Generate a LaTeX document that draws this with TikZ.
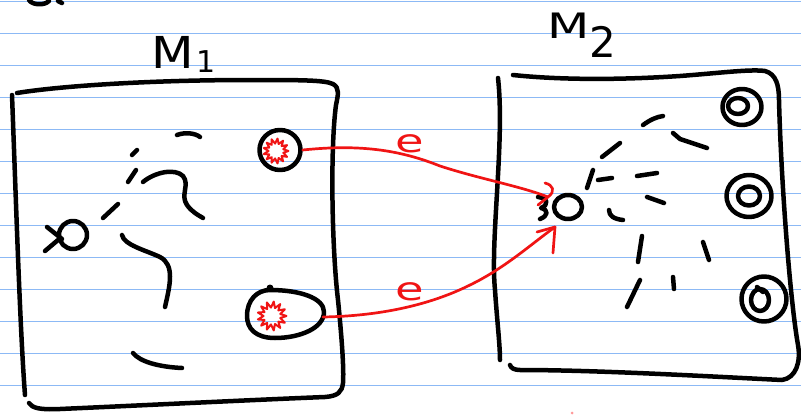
\documentclass[tikz,border=0pt]{standalone}
\usepackage{fontspec}
\setmainfont{DejaVu Sans}
\usetikzlibrary{shapes.geometric,calc}
\definecolor{ruleblue}{RGB}{140,185,245}
\definecolor{inkred}{RGB}{240,20,20}
\begin{document}
\begin{tikzpicture}[x=1pt,y=-1pt,
  ink/.style={line width=4.5pt,line cap=round,line join=round,draw=black},
  redink/.style={line width=2.7pt,line cap=round,line join=round,draw=inkred},
  burst/.style={line width=2pt,line join=round,draw=inkred},
  hrule/.style={line width=1.5pt,draw=ruleblue},
  ring/.style={ink,ellipse,inner sep=0pt},
  mlabel/.style={anchor=base west,inner sep=0pt},
  elabel/.style={anchor=base west,inner sep=0pt,text=inkred,font=\fontsize{32}{32}\selectfont}
]
\useasboundingbox (0,0) rectangle (801,415);
\fill[white] (0,0) rectangle (801,415);
\foreach \k in {0,...,12} {\draw[hrule] (0,{1.3+32*\k}) -- (801,{1.3+32*\k});}

% fragment at top left
\draw[ink] (29,0) .. controls (32,5) and (44,6) .. (49,1);
\draw[ink] (58,1) -- (62,3);

% labels
\node[mlabel] (m1) at (151,68) {\scalebox{1.12}[1]{\fontsize{44}{44}\selectfont M}\hspace{3pt}\raisebox{-4pt}{\fontsize{30}{30}\selectfont 1}};
\node[mlabel] (m2) at (547,38) {\scalebox{1.4}[1]{\fontsize{35}{35}\selectfont M}\raisebox{-19pt}{\fontsize{42}{42}\selectfont 2}};

% left box M1
\draw[ink] (17,93) .. controls (60,86) and (150,80) .. (250,80) .. controls (300,80) and (325,80) .. (333,84) .. controls (340,88) and (338,95) .. (336,105) .. controls (330,150) and (332,250) .. (338,300) .. controls (342,340) and (344,370) .. (343,383) .. controls (342,392) and (338,396) .. (325,397) .. controls (250,400) and (150,405) .. (60,409) .. controls (40,410) and (32,408) .. (29,403);
\draw[ink] (12,95) .. controls (16,200) and (20,330) .. (25,395);

% left contents
\node[ink,ellipse,minimum width=28,minimum height=28,inner sep=0pt] (src) at (73,235) {};
\draw[ink] (47,227) -- (62,239);
\draw[ink] (45,251) -- (58,240);
\draw[ink] (103,218) -- (118,204);
\draw[ink] (132,155) -- (137,150);
\draw[ink] (128,182) -- (136,170);
\draw[ink] (177,135) .. controls (185,132) and (195,133) .. (200,137);
\draw[ink] (143,182) .. controls (155,172) and (175,168) .. (183,176) .. controls (190,185) and (180,195) .. (187,205) .. controls (192,212) and (198,215) .. (203,218);
\draw[ink] (122,235) .. controls (124,245) and (145,250) .. (160,257) .. controls (175,265) and (170,285) .. (165,307);
\draw[ink] (133,353) .. controls (140,362) and (160,367) .. (182,368);

% blobs
\node[ink,ellipse,minimum width=41,minimum height=40,inner sep=0pt] (blobA) at (280,150) {};
\draw[burst,shift={(276,151)}] plot[domain=0:360,samples=27] ({(10+2.5*cos(13*\x))*cos(\x)},{(10+2.5*cos(13*\x))*sin(\x)}) -- cycle;
\draw[ink] (270,290) .. controls (300,290) and (324,298) .. (324,312) .. controls (324,328) and (300,338) .. (275,338) .. controls (255,338) and (247,328) .. (247,316) .. controls (247,300) and (257,290) .. (270,290) -- cycle;
\fill (270,288) circle[radius=3.5];
\draw[burst,shift={(272,316)}] plot[domain=0:360,samples=27] ({(11.5+3*cos(13*\x))*cos(\x)},{(11.5+3*cos(13*\x))*sin(\x)}) -- cycle;
\coordinate (eggR) at (323,317);

% right box M2
\draw[ink] (513,75) .. controls (560,80) and (620,80) .. (680,76) .. controls (720,73) and (750,69) .. (765,71) .. controls (776,74) and (779,85) .. (779,100) .. controls (781,180) and (790,300) .. (798,345) .. controls (801,362) and (796,378) .. (782,380) .. controls (720,377) and (600,370) .. (520,370) .. controls (514,370) and (511,368) .. (510,365);
\draw[ink] (498,78) .. controls (505,140) and (490,240) .. (495,290) .. controls (497,320) and (500,345) .. (500,360);

% right target
\node[ink,ellipse,minimum width=28,minimum height=24,inner sep=0pt] (tgt) at (568,207) {};
\draw[ink] (538,197) .. controls (548,198) and (549,205) .. (541,208) .. controls (549,210) and (548,216) .. (540,219);
\coordinate (inA) at (548,197);
\coordinate (inB) at (555,227);

% right dashes
\draw[ink] (587,188) -- (593,170);
\draw[ink] (598,180) -- (612,178);
\draw[ink] (602,157) -- (620,143);
\draw[ink] (643,125) .. controls (650,120) and (656,117) .. (663,116);
\draw[ink] (673,133) -- (680,139) -- (707,148);
\draw[ink] (637,176) -- (657,173);
\draw[ink] (647,197) -- (664,203);
\draw[ink] (609,210) .. controls (609,216) and (614,219) .. (623,220);
\draw[ink] (642,236) -- (638,262);
\draw[ink] (703,242) -- (709,260);
\draw[ink] (640,280) -- (627,307);
\draw[ink] (673,277) -- (674,289);

% rings
\node[ring,minimum width=39,minimum height=36] (r1o) at (742,107) {};
\node[ring,minimum width=20,minimum height=16] (r1i) at (738,106) {};
\node[ring,minimum width=45,minimum height=42] (r2o) at (749,196) {};
\node[ring,minimum width=22,minimum height=19] (r2i) at (749,196) {};
\node[ring,minimum width=45,minimum height=45] (r3o) at (764,299) {};
\node[ring,minimum width=18,minimum height=22] (r3i) at (760,300) {};
\draw[ink] (757,287) -- (763,292);

% red arrows
\draw[redink] (blobA.east) .. controls (360,144) and (400,150) .. (440,166) .. controls (480,179) and (520,186) .. (inA);
\draw[redink] ($(inA)+(-3,-14)$) .. controls ($(inA)+(5,-12)$) and ($(inA)+(8,-6)$) .. (inA) -- ($(inA)+(-10,8)$);
\draw[redink] (eggR) .. controls (380,316) and (430,305) .. (470,285) .. controls (505,268) and (530,245) .. (inB);
\draw[redink] ($(inB)+(-18,5)$) -- (inB) -- ($(inB)+(-2,26)$);
\node[elabel] (e1) at (395,152) {\scalebox{1.45}[1]{e}};
\node[elabel] (e2) at (395,300) {\scalebox{1.45}[1]{e}};

\fill[red!40] (572,413) circle[radius=1.5];
\end{tikzpicture}
\end{document}
